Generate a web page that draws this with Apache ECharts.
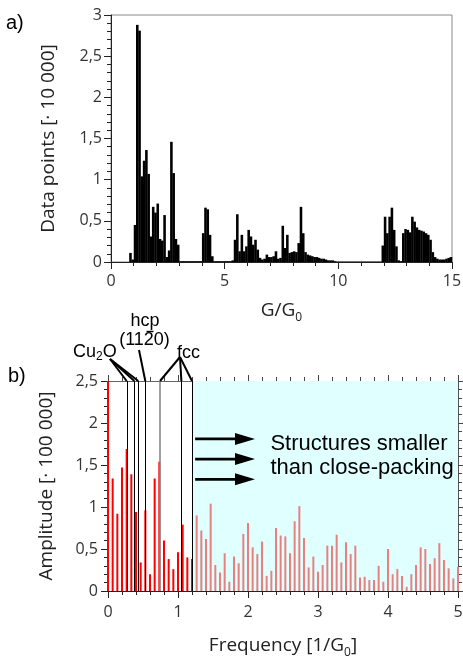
<!DOCTYPE html>
<html><head><meta charset="utf-8">
<script src="https://cdn.jsdelivr.net/npm/echarts@6/dist/echarts.min.js"></script>
<style>html,body{margin:0;padding:0;background:#fff}#c{width:463px;height:660px}</style>
</head><body><div id="c"></div>
<script>
// ---- panel a: conductance histogram (bins of 0.1 G0 starting at 0) ----
const G_BIN_WIDTH = 0.1;
const histCounts = [
  0,0,0,0,0,0,0,0,0.11,0.03,
  0.45,2.88,2.81,1.04,1.23,1.36,1.07,0.31,0.67,0.60,
  0.71,0.28,0.26,0.57,0.06,0.14,1.46,1.08,0.28,0.21,
  0.01,0.01,0.01,0.01,0.01,0.01,0.01,0.01,0.01,0.01,
  0.35,0.66,0.64,0.33,0.07,0.01,0.01,0.01,0.01,0.01,
  0.01,0.01,0.01,0.02,0.27,0.58,0.13,0.33,0.13,0.19,
  0.39,0.31,0.21,0.27,0.15,0.05,0.03,0.04,0.09,0.06,
  0.06,0.07,0.13,0.04,0.05,0.44,0.17,0.33,0.11,0.12,
  0.13,0.12,0.23,0.67,0.35,0.12,0.09,0.08,0.07,0.06,
  0.06,0.05,0.04,0.04,0.03,0.02,0.02,0.02,0.01,0.005,
  0.005,0.005,0.005,0.005,0.005,0.005,0.005,0.005,0.005,0.005,
  0.005,0.005,0.005,0.005,0.005,0.005,0.005,0.005,0.005,0.2,
  0.55,0.35,0.55,0.66,0.39,0.19,0.02,0.01,0.35,0.40,
  0.39,0.36,0.55,0.49,0.42,0.39,0.38,0.37,0.35,0.33,
  0.27,0.12,0.06,0.04,0.03,0.03,0.03,0.04,0.05,0.06
];
const gTicksMax = 15;
const countMax = 3;

// ---- panel b: Fourier amplitude, frequency resolution 1/15 ----
const FREQ_STEP = 1 / 15;
const amplitude = [
  2.5,1.34,0.92,1.47,1.69,1.39,0.94,0.34,0.96,0.20,
  1.34,1.54,0.60,0.38,0.26,0.46,0.79,0.40,0.38,0.90,
  0.72,0.62,1.04,0.31,0.22,0.45,0.11,0.41,0.33,0.68,
  0.81,0.52,0.44,0.59,0.18,0.24,0.75,0.66,0.65,0.45,
  0.83,1.01,0.63,0.28,0.41,0.23,0.31,0.54,0.54,0.67,
  0.34,0.58,0.44,0.54,0.16,0.17,0.13,0.13,0.30,0.11,
  0.50,0.20,0.26,0.18,0.05,0.20,0.31,0.52,0.50,0.32,
  0.39,0.57,0.37,0.27,0.15,0.29
];
const freqMax = 5;
const ampMax = 2.5;
const CLOSE_PACKING_LIMIT = 1.2;
const refLines = [0.267, 0.376, 0.433, 0.533, 0.743, 1.048, 1.2];
const refLineGray = [false, false, false, false, true, false, false];
const arrowRows = [1.81, 1.57, 1.33];
const arrowFrom = 1.245, arrowTo = 2.1;
const annotText = ['Structures smaller', 'than close-packing'];

const FONT = 'Open Sans';
const AFONT = 'Liberation Sans';
const comma = v => String(v).replace('.', ',');

const chart = echarts.init(document.getElementById('c'), null, {renderer: 'canvas'});

function axisBase(extra) {
  return Object.assign({
    type: 'value',
    axisLine: {show: true, onZero: false, lineStyle: {color: '#222', width: 1}},
    axisTick: {show: true, inside: false, length: 7, lineStyle: {color: '#222', width: 1}},
    minorTick: {show: true, splitNumber: 5, length: 4, lineStyle: {color: '#222', width: 1}},
    splitLine: {show: false},
    minorSplitLine: {show: false},
    axisLabel: {show: true, color: '#333', fontFamily: FONT, fontSize: 16, formatter: comma}
  }, extra);
}

const nameStyle = {
  fontFamily: FONT, fontSize: 19, color: '#222', lineHeight: 26,
  rich: {s: {fontFamily: FONT, fontSize: 12, lineHeight: 12, verticalAlign: 'bottom', color: '#222'}}
};

const histData = histCounts.map((v, i) => [i * G_BIN_WIDTH, (i + 1) * G_BIN_WIDTH, v]);
const barData = amplitude.map((v, k) => ({
  value: [k * FREQ_STEP, v],
  itemStyle: {color: k * FREQ_STEP <= CLOSE_PACKING_LIMIT + 1e-9 ? '#ff0000' : '#e98080'}
}));

const option = {
  animation: false,
  backgroundColor: '#fff',
  grid: [
    {left: 111, top: 15, width: 341, height: 247, show: true, borderColor: '#888', borderWidth: 1, backgroundColor: 'transparent', outerBoundsMode: 'none'},
    {left: 108, top: 381, width: 350, height: 210, show: false, outerBoundsMode: 'none'}
  ],
  xAxis: [
    axisBase({gridIndex: 0, min: 0, max: gTicksMax, interval: 5,
      axisLabel: {color: '#333', fontFamily: FONT, fontSize: 16, margin: 11},
      name: 'G/G{s|0}', nameLocation: 'middle', nameGap: 36, nameTextStyle: nameStyle}),
    axisBase({gridIndex: 1, min: 0, max: freqMax, interval: 1,
      axisLabel: {color: '#333', fontFamily: FONT, fontSize: 16, margin: 13},
      name: 'Frequency [1/G{s|0}]', nameLocation: 'middle', nameGap: 42, nameTextStyle: nameStyle}),
    axisBase({gridIndex: 1, position: 'top', min: 0, max: freqMax, interval: 1,
      axisLine: {show: true, onZero: false, lineStyle: {color: '#666', width: 1}},
      axisTick: {show: true, inside: false, length: 6, lineStyle: {color: '#444'}},
      minorTick: {show: true, splitNumber: 5, length: 4, lineStyle: {color: '#444'}},
      axisLabel: {show: false}})
  ],
  yAxis: [
    axisBase({gridIndex: 0, min: 0, max: countMax, interval: 0.5,
      axisLabel: {color: '#333', fontFamily: FONT, fontSize: 16, margin: 9, formatter: comma},
      name: 'Data points [· 10 000]', nameLocation: 'middle', nameGap: 53,
      nameTextStyle: {fontFamily: FONT, fontSize: 19, color: '#222'}}),
    axisBase({gridIndex: 1, min: 0, max: ampMax, interval: 0.5,
      axisLabel: {color: '#333', fontFamily: FONT, fontSize: 16, margin: 10, formatter: comma},
      name: 'Amplitude [· 100 000]', nameLocation: 'middle', nameGap: 52,
      nameTextStyle: {fontFamily: FONT, fontSize: 19, color: '#222'}}),
    axisBase({gridIndex: 1, position: 'right', min: 0, max: ampMax, interval: 0.5,
      axisLine: {show: true, onZero: false, lineStyle: {color: '#555', width: 1}},
      axisTick: {show: true, inside: false, length: 6, lineStyle: {color: '#444'}},
      minorTick: {show: true, splitNumber: 5, length: 4, lineStyle: {color: '#444'}},
      axisLabel: {show: false}})
  ],
  series: [
    {
      type: 'custom', name: 'histogram', xAxisIndex: 0, yAxisIndex: 0, z: 3,
      encode: {x: [0, 1], y: 2},
      data: histData,
      renderItem: (params, api) => {
        const p0 = api.coord([api.value(0), api.value(2)]);
        const p1 = api.coord([api.value(1), 0]);
        return {type: 'rect', shape: {x: p0[0], y: p0[1], width: p1[0] - p0[0] + 0.3, height: p1[1] - p0[1]},
          style: {fill: '#000'}};
      }
    },
    {
      type: 'custom', name: 'smaller region', xAxisIndex: 1, yAxisIndex: 1, z: 1,
      encode: {x: [0, 1]},
      data: [[CLOSE_PACKING_LIMIT, freqMax]],
      renderItem: (params, api) => {
        const cs = params.coordSys;
        const x0 = api.coord([api.value(0), 0])[0];
        const x1 = api.coord([api.value(1), 0])[0];
        return {type: 'rect', shape: {x: x0, y: cs.y, width: x1 - x0, height: cs.height},
          style: {fill: '#e0ffff'}};
      }
    },
    {
      type: 'bar', name: 'amplitude', xAxisIndex: 1, yAxisIndex: 1, z: 3,
      barWidth: 2, clip: false,
      data: barData,
      markLine: {
        silent: true, symbol: ['none', 'none'], label: {show: false}, animation: false,
        data: refLines.map((v, i) => ({xAxis: v,
          lineStyle: {type: 'solid', color: refLineGray[i] ? '#888' : '#000', width: refLineGray[i] ? 1.6 : 1}}))
      }
    },
    {
      type: 'custom', name: 'arrows', xAxisIndex: 1, yAxisIndex: 1, z: 4,
      encode: {x: [0, 1], y: 2},
      data: arrowRows.map(y => [arrowFrom, arrowTo, y]),
      renderItem: (params, api) => {
        const a = api.coord([api.value(0), api.value(2)]);
        const b = api.coord([api.value(1), api.value(2)]);
        const head = 20, half = 6;
        return {type: 'group', children: [
          {type: 'line', shape: {x1: a[0], y1: a[1], x2: b[0] - head + 2, y2: b[1]}, style: {stroke: '#000', lineWidth: 2.8}},
          {type: 'polygon', shape: {points: [[b[0], b[1]], [b[0] - head, b[1] - half], [b[0] - head, b[1] + half]]}, style: {fill: '#000'}}
        ]};
      }
    }
  ]
};

chart.setOption(option);

// ---- annotations ----
const topY = chart.convertToPixel({yAxisIndex: 1}, ampMax);
const lx = refLines.map(v => chart.convertToPixel({xAxisIndex: 1}, v));
const aText = chart.convertToPixel({xAxisIndex: 1}, 2.32);
const cu2o = [110, 359], hcpA = [139, 350], fccA = [180, 357];
const link = (p, x) => ({type: 'line', shape: {x1: p[0], y1: p[1], x2: x, y2: topY}, style: {stroke: '#000', lineWidth: 2}, z: 10});
const subRich = {
  m: {fontFamily: AFONT, fontSize: 18, lineHeight: 22, color: '#000'},
  s: {fontFamily: AFONT, fontSize: 12, lineHeight: 10, verticalAlign: 'bottom', color: '#000'}
};
chart.setOption({
  graphic: [
    {type: 'text', left: 6, top: 13, style: {text: 'a)', font: '20px "Liberation Sans"', fill: '#000'}},
    {type: 'text', left: 8, top: 366, style: {text: 'b)', font: '20px "Liberation Sans"', fill: '#000'}},
    link(cu2o, lx[0]), link(cu2o, lx[1]), link(cu2o, lx[2]),
    link(hcpA, lx[3]),
    link(fccA, lx[4]), link(fccA, lx[5]), link(fccA, lx[6]),
    {type: 'text', x: 73, y: 341, z: 10, style: {text: '{m|Cu}{s|2}{m|O}', rich: subRich, fill: '#000'}},
    {type: 'text', x: 145, y: 321, z: 10, style: {text: 'hcp', font: '18px "Liberation Sans"', fill: '#000', align: 'center', verticalAlign: 'middle'}},
    {type: 'text', x: 144.5, y: 340, z: 10, style: {text: '(1120)', font: '18px "Liberation Sans"', fill: '#000', align: 'center', verticalAlign: 'middle'}},
    {type: 'line', z: 10, shape: {x1: 146.5, y1: 331.5, x2: 153.5, y2: 331.5}, style: {stroke: '#000', lineWidth: 1.4}},
    {type: 'text', x: 177, y: 353, z: 10, style: {text: 'fcc', font: '18px "Liberation Sans"', fill: '#000', verticalAlign: 'middle'}},
    {type: 'text', x: aText, y: 432, z: 10, style: {text: annotText.join('\n'), font: '22px "Liberation Sans"', lineHeight: 24, fill: '#000'}}
  ]
});
</script></body></html>
